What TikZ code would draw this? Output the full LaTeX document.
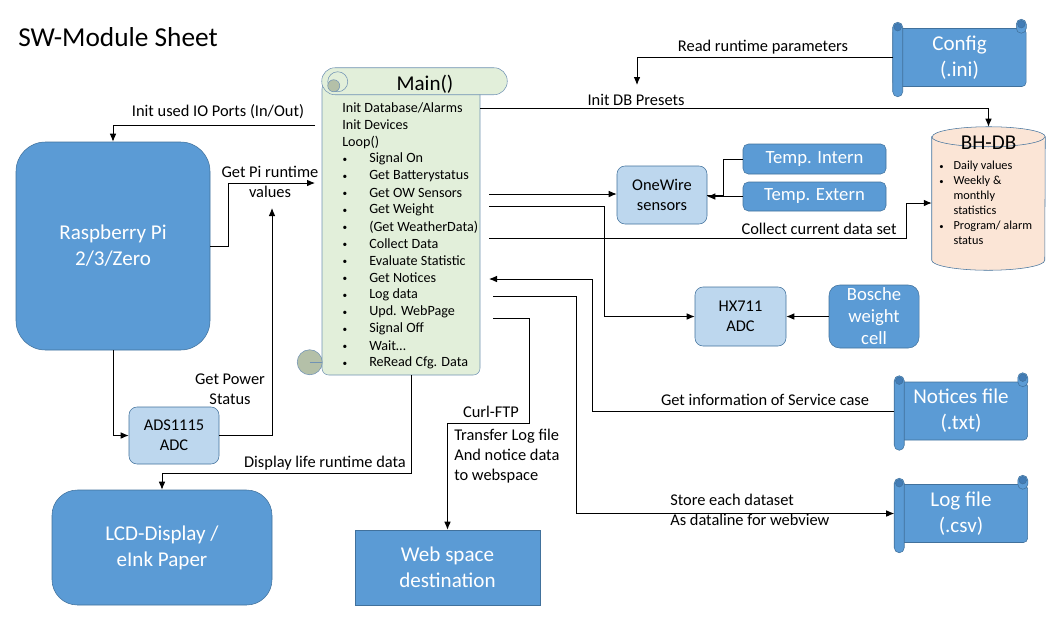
\documentclass[tikz,border=0pt]{standalone}
\usepackage{fontspec}
\setmainfont{Carlito}
\usepackage{tikz}
\usetikzlibrary{positioning}
\usetikzlibrary{calc}
\usetikzlibrary{arrows.meta}

\definecolor{boxblue}{RGB}{91,155,213}
\definecolor{boxline}{RGB}{65,113,156}
\definecolor{lightbox}{RGB}{189,215,238}
\definecolor{scrollgreen}{RGB}{226,239,218}
\definecolor{scrollline}{RGB}{112,146,180}
\definecolor{curlgreen}{RGB}{180,192,168}
\definecolor{curlblue}{RGB}{66,124,182}
\definecolor{dbfill}{RGB}{251,229,214}

\newcommand{\fsTitle}{\fontsize{20.5}{24}\selectfont}
\newcommand{\fsBig}{\fontsize{15.8}{19.5}\selectfont}
\newcommand{\fsMid}{\fontsize{14}{16.5}\selectfont}
\newcommand{\fsLbl}{\fontsize{12.3}{15}\selectfont}
\newcommand{\fsList}{\fontsize{10.6}{12.75}\selectfont}
\newcommand{\fsSmall}{\fontsize{9.2}{11.25}\selectfont}
\newcommand{\smallbullet}{{\fontsize{7}{8}\selectfont •}}

\tikzset{
  bigbox/.style={rectangle,draw=boxline,fill=boxblue,text=white,align=center,inner sep=0pt,font=\fsBig},
  smallbox/.style={rectangle,rounded corners=6pt,draw=boxline,fill=lightbox,align=center,inner sep=0pt,font=\fsLbl},
  sensbox/.style={rectangle,rounded corners=4pt,draw=boxline,fill=boxblue,text=white,align=center,inner sep=0pt,font=\fsMid},
  hscroll/.style={rectangle,rounded corners=3pt,draw=boxline,fill=boxblue,text=white,align=center,inner sep=0pt,font=\fsBig,minimum width=99.75pt,minimum height=43.5pt},
  lbl/.style={font=\fsLbl,align=center,inner sep=0pt},
  listtext/.style={font=\fsList,anchor=west,inner sep=0pt},
  conn/.style={line width=0.7pt,black},
  arr/.style={conn,-{Latex[length=6pt,width=5pt]}}
}

% rolls of a horizontal scroll
\newcommand{\hscrollrolls}[1]{
  \draw[boxline,fill=boxblue,rounded corners=3.75pt] ($(#1.north east)+(-10,-9)$) rectangle ($(#1.north east)+(0,5)$);
  \draw[boxline,fill=curlblue] ($(#1.north east)+(-5,-4)$) circle (2.8pt);
  \draw[boxline,fill=boxblue,rounded corners=3.75pt] ($(#1.north west)+(0,-6)$) rectangle ($(#1.south west)+(10,10)$);
  \draw[boxline,fill=curlblue] ($(#1.north west)+(5,-1)$) circle (2.8pt);
}

\begin{document}
\begin{tikzpicture}[x=0.75pt,y=-0.75pt]
\useasboundingbox (0,0) rectangle (1062,618);

%title
\node[font=\fsTitle,anchor=west,inner sep=0pt] (title) at (18,37) {SW-Module Sheet};

%main scroll
\node[draw=scrollline,fill=scrollgreen,rounded corners=5pt,minimum width=118.5pt,minimum height=219.75pt,inner sep=0pt] (main) at (401,228.5) {};
\draw[scrollline,fill=scrollgreen,rounded corners=10pt] ($(main.north west)+(0,-14)$) rectangle ($(main.north east)+(27,13)$);
\draw[scrollline,fill=scrollgreen] ($(main.north west)+(16,0)$) circle (7.5pt);
\draw[scrollline,fill=curlgreen] ($(main.north west)+(12,4)$) circle (4.5pt);
\draw[scrollline,fill=curlgreen] ($(main.south west)+(-12,-13)$) circle (9.4pt);
\draw[scrollline] ($(main.south west)+(-12,-13)$) -- ++(12,0);
\node[font=\fsBig] (maintitle) at (425,84) {Main()};
\node[listtext] (l1) at (342,108) {Init Database/Alarms};
\node[listtext] (l2) at (342,125) {Init Devices};
\node[listtext] (l3) at (342,142) {Loop()};
\foreach \txt [count=\i from 4] in {Signal On,Get Batterystatus,Get OW Sensors,Get Weight,(Get WeatherData),Collect Data,Evaluate Statistic,Get Notices,Log data,Upd. WebPage,Signal Off,Wait…,ReRead Cfg. Data} {
  \node[listtext] (l\i) at (369,{108+17*(\i-1)}) {\txt};
  \node[listtext,anchor=center] (b\i) at (345,{109+17*(\i-1)}) {\smallbullet};
}

%boxes on the left
\node[bigbox,rounded corners=22pt,minimum width=145.5pt,minimum height=156pt] (pi) at (113,246) {Raspberry Pi\\2/3/Zero};
\node[smallbox,minimum width=67.5pt,minimum height=42.75pt] (ads) at (174,435.5) {ADS1115\\ADC};
\node[bigbox,rounded corners=19pt,minimum width=165pt,minimum height=86.25pt] (lcd) at (162,547.5) {LCD-Display /\\eInk Paper};
\node[bigbox,minimum width=138.75pt,minimum height=56.25pt] (web) at (447.5,567.5) {Web space\\destination};

%sensors
\node[smallbox,minimum width=67.5pt,minimum height=43.5pt] (onewire) at (662,195) {OneWire\\sensors};
\node[sensbox,minimum width=107.25pt,minimum height=22.5pt] (tempint) at (814.5,159) {Temp. Intern};
\node[sensbox,minimum width=107.25pt,minimum height=21.75pt] (tempext) at (814.5,196.5) {Temp. Extern};
\node[smallbox,minimum width=68.25pt,minimum height=44.25pt] (hx) at (740.5,316.5) {HX711\\ADC};
\node[sensbox,rounded corners=8pt,minimum width=67.5pt,minimum height=47.25pt] (bosche) at (874,316.5) {Bosche\\weight\\cell};

%database
\node[minimum width=84.75pt,minimum height=107.25pt,inner sep=0pt] (db) at (988.5,198.5) {};
\draw[boxline,fill=dbfill] ($(db.north west)+(0,10)$) -- ($(db.south west)+(0,-10)$) arc[start angle=180,end angle=360,x radius=42.375pt,y radius=7.5pt] -- ($(db.north east)+(0,10)$) arc[start angle=0,end angle=180,x radius=42.375pt,y radius=7.5pt] -- cycle;
\draw[boxline] ($(db.north west)+(0,10)$) arc[start angle=180,end angle=360,x radius=42.375pt,y radius=7.5pt];
\node[font=\fsBig] (dbtitle) at (988.5,143) {BH-DB};
\node[font=\fsSmall,anchor=base west,inner sep=0pt] (dblist) at (939,169) {\begin{tabular}[t]{@{}l@{\hspace{7.5pt}}l@{}}
  {\fontsize{6.5}{8}\selectfont •} & Daily values\\
  {\fontsize{6.5}{8}\selectfont •} & Weekly \&\\
    & monthly\\
    & statistics\\
  {\fontsize{6.5}{8}\selectfont •} & Program/ alarm\\
    & status
\end{tabular}};

%files
\node[hscroll] (config) at (959.5,57.5) {Config\\(.ini)};
\hscrollrolls{config}
\node[hscroll] (notices) at (961,411) {Notices file\\(.txt)};
\hscrollrolls{notices}
\node[hscroll] (logfile) at (961,513.5) {Log file\\(.csv)};
\hscrollrolls{logfile}

%labels
\node[lbl] (lblread) at (763,47) {Read runtime parameters};
\node[lbl] (lbldbpre) at (636,100) {Init DB Presets};
\node[lbl] (lblio) at (218,112) {Init used IO Ports (In/Out)};
\node[lbl] (lblpi) at (270,182) {Get Pi runtime\\values};
\node[lbl] (lblpwr) at (230,389) {Get Power\\Status};
\node[lbl] (lbldisp) at (325,463) {Display life runtime data};
\node[lbl] (lblcurl) at (491,412) {Curl-FTP};
\node[lbl,anchor=west,align=left] (lbltransfer) at (454,456) {Transfer Log file\\And notice data\\to webspace};
\node[lbl,anchor=west,align=left] (lblstore) at (670,510) {Store each dataset\\As dataline for webview};
\node[lbl] (lblnotice) at (765,400) {Get information of Service case};
\node[lbl] (lblcollect) at (819,229) {Collect current data set};

%connectors
\coordinate (rtpin) at (637,85);
\coordinate (ioout) at (315,125);
\coordinate (piin) at (315,183);
\coordinate (pwrin) at (272,208);
\coordinate (webout) at (493,318);
\coordinate (logout) at (493,296);
\coordinate (notin) at (489,279);
\coordinate (owout) at (489,194);
\coordinate (wgtout) at (489,206);
\coordinate (colout) at (489,238);
\draw[arr] (config.west) -| (rtpin);
\draw[arr] (main.east |- l1) -| (db.north);
\draw[arr] (ioout) -| (pi.north);
\draw[arr] (pi.east) -- ++(18,0) |- (piin);
\draw[arr] (pi.south) |- (ads.west);
\draw[arr] (ads.east) -| (pwrin);
\draw[arr] ($(main.south)+(10,0)$) -- ++(0,98) -| (lcd.north);
\draw[arr] (webout) -- ++(36,0) -- ++(0,105) -| (web.north);
\draw[arr] (logout) -- ++(83,0) |- (logfile.west);
\draw[arr] (notices.west) -- ++(-302,0) |- (notin);
\draw[arr] (owout) -- (owout -| onewire.west);
\draw[arr] (wgtout) -- ++(115,0) |- (hx.west);
\draw[arr] (colout) -- ++(417,0) |- ($(db.west)+(0,4.5)$);
\draw[conn] (tempint.west) -- ++(-19,0) |- (onewire.east);
\draw[arr] (tempext.west) -- (tempext.west -| onewire.east);
\draw[arr] (bosche.west) -- (hx.east);
\end{tikzpicture}
\end{document}
